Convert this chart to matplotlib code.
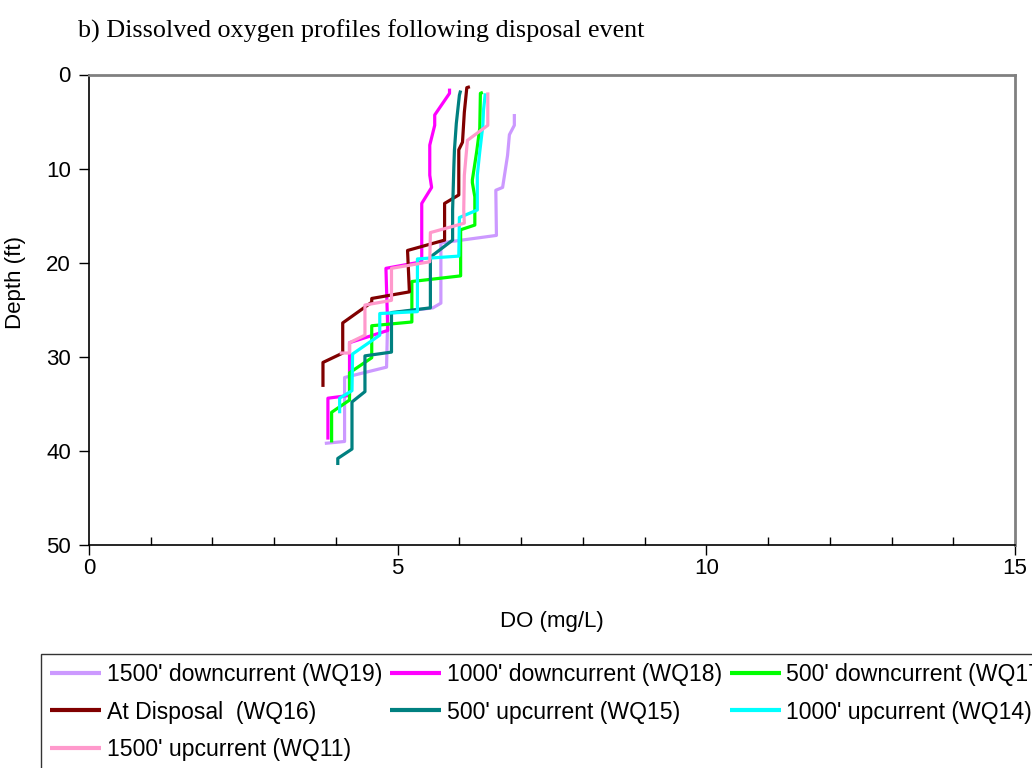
import matplotlib
matplotlib.use("Agg")
import matplotlib.pyplot as plt
from matplotlib.ticker import MultipleLocator

# ---------------- data ----------------
labels = ["1500' downcurrent (WQ19)", "1000' downcurrent (WQ18)", "500' downcurrent (WQ17)",
          "At Disposal  (WQ16)", "500' upcurrent (WQ15)", "1000' upcurrent (WQ14)",
          "1500' upcurrent (WQ11)"]
colors = ["#CC99FF", "#FF00FF", "#00FF00", "#800000", "#008080", "#00FFFF", "#FF99CC"]

do_wq19 = [6.89, 6.89, 6.81, 6.78, 6.70, 6.59, 6.60, 5.70, 5.70, 5.57, 4.84, 4.82, 4.14, 4.14, 3.82]
dep_wq19 = [4.2, 5.4, 6.4, 8.6, 12.0, 12.3, 17.1, 17.9, 24.3, 24.8, 25.4, 31.1, 32.2, 39.0, 39.2]

do_wq18 = [5.84, 5.84, 5.60, 5.60, 5.52, 5.52, 5.55, 5.39, 5.39, 4.81, 4.84, 4.22, 4.22, 3.87, 3.87]
dep_wq18 = [1.5, 2.0, 4.3, 5.4, 7.5, 10.7, 12.0, 13.7, 19.9, 20.6, 27.2, 28.5, 34.1, 34.4, 38.8]

do_wq17 = [6.38, 6.34, 6.33, 6.28, 6.21, 6.21, 6.25, 6.25, 6.02, 6.02, 5.23, 5.23, 4.58, 4.58, 4.22, 4.22, 3.93, 3.93]
dep_wq17 = [1.9, 2.0, 5.7, 8.2, 11.2, 11.5, 13.0, 16.0, 16.5, 21.4, 22.0, 26.3, 26.7, 30.1, 31.7, 34.6, 35.9, 39.1]

do_wq16 = [6.17, 6.12, 6.08, 6.05, 5.99, 5.99, 5.76, 5.76, 5.16, 5.19, 4.58, 4.58, 4.11, 4.11, 3.79, 3.79]
dep_wq16 = [1.3, 1.4, 4.0, 7.2, 8.0, 12.8, 13.7, 17.6, 18.7, 23.1, 23.8, 24.2, 26.4, 29.6, 30.6, 33.2]

do_wq15 = [6.02, 6.00, 5.95, 5.92, 5.91, 5.89, 5.89, 5.53, 5.53, 4.90, 4.90, 4.47, 4.47, 4.26, 4.26, 4.03, 4.03]
dep_wq15 = [1.7, 2.2, 5.2, 8.0, 9.8, 14.4, 17.6, 19.4, 24.8, 25.3, 29.5, 29.9, 33.7, 34.8, 39.8, 40.8, 41.5]

do_wq14 = [6.42, 6.39, 6.38, 6.33, 6.29, 6.29, 6.00, 5.99, 5.32, 5.32, 4.71, 4.71, 4.27, 4.26, 4.06, 4.06]
dep_wq14 = [2.0, 3.8, 5.4, 8.2, 10.7, 14.4, 15.2, 19.3, 19.6, 25.2, 25.4, 27.7, 29.7, 33.6, 34.4, 36.0]

do_wq11 = [6.46, 6.46, 6.13, 6.08, 6.07, 6.08, 5.53, 5.52, 4.90, 4.90, 4.47, 4.47, 4.22, 4.22, 4.06]
dep_wq11 = [1.9, 5.4, 7.0, 10.7, 14.4, 15.8, 16.8, 19.9, 20.6, 24.0, 24.5, 27.7, 28.5, 29.6, 29.6]

series_do = [do_wq19, do_wq18, do_wq17, do_wq16, do_wq15, do_wq14, do_wq11]
series_dep = [dep_wq19, dep_wq18, dep_wq17, dep_wq16, dep_wq15, dep_wq14, dep_wq11]

x_ticks = [0, 5, 10, 15]
y_ticks = [0, 10, 20, 30, 40, 50]

# ---------------- figure ----------------
plt.rcParams['font.family'] = ['Liberation Sans', 'DejaVu Sans']
W, H = 1032, 768
fig = plt.figure(figsize=(W / 100, H / 100), dpi=100)
L, R, T, B = 89, 1015, 74.5, 545
ax = fig.add_axes([L / W, 1 - B / H, (R - L) / W, (B - T) / H])

handles = []
for xs, ys, c, lab in zip(series_do, series_dep, colors, labels):
    h, = ax.plot(xs, ys, color=c, lw=2.3, label=lab, solid_joinstyle='round', solid_capstyle='butt')
    handles.append(h)

ax.set_xlim(0, 15)
ax.set_ylim(50, 0)
ax.set_xticks(x_ticks)
ax.set_yticks(y_ticks)
ax.xaxis.set_minor_locator(MultipleLocator(1))
ax.tick_params(axis='x', which='major', direction='out', length=7, width=1, labelsize=16, pad=2)
ax.tick_params(axis='x', which='minor', direction='in', length=6, width=1)
ax.tick_params(axis='y', which='major', direction='out', length=7, width=1, labelsize=16, pad=6)

for s in ['left', 'bottom']:
    ax.spines[s].set_color('black')
    ax.spines[s].set_linewidth(1.2)
for s in ['top', 'right']:
    ax.spines[s].set_color('#808080')
    ax.spines[s].set_linewidth(2)

ax.set_xlabel('DO (mg/L)', fontsize=16)
ax.xaxis.set_label_coords(0.5, -0.140)
ax.set_ylabel('Depth (ft)', fontsize=16)
ax.yaxis.set_label_coords(-0.068, 0.557)

fig.text(78 / W, 1 - 31 / H, 'b) Dissolved oxygen profiles following disposal event',
         family=['Liberation Serif', 'DejaVu Serif'], fontsize=18.8, va='center', ha='left')

# legend in row-major order (matplotlib fills columns first)
order = [0, 3, 6, 1, 4, 2, 5]
leg = fig.legend([handles[i] for i in order], [labels[i] for i in order],
                 loc='upper left', bbox_to_anchor=(41 / W, 1 - 654 / H), bbox_transform=fig.transFigure,
                 ncol=3, fontsize=16.6, frameon=True, fancybox=False, borderaxespad=0,
                 handlelength=2.2, handletextpad=0.25, columnspacing=0.35, labelspacing=0.62,
                 borderpad=0.4)
leg.get_frame().set_edgecolor('black')
leg.get_frame().set_linewidth(1.0)
for lh in leg.get_lines():
    lh.set_linewidth(3)

fig.savefig('out.png', dpi=100)
